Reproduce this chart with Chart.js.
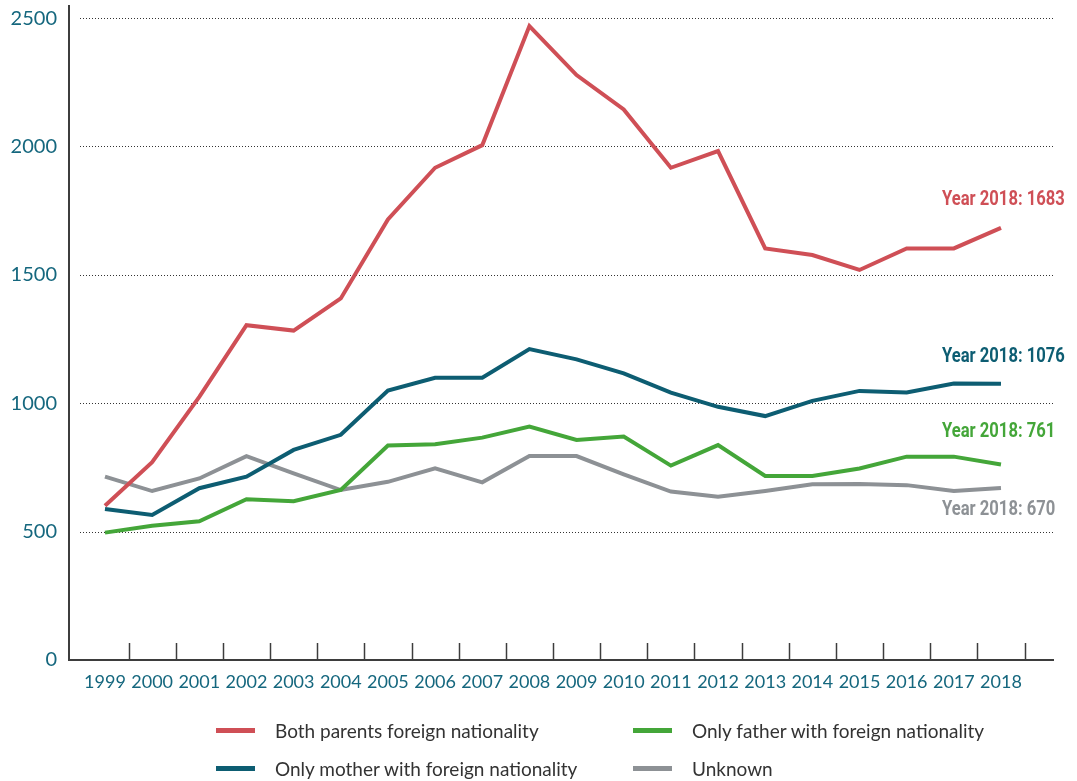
<!DOCTYPE html>
<html>
<head>
<meta charset="utf-8">
<script src="https://cdn.jsdelivr.net/npm/chart.js@4/dist/chart.umd.min.js"></script>
<style>
  html, body { margin: 0; padding: 0; background: #fff; }
  #wrap { position: relative; width: 1077px; height: 781px; }
  #chart { position: absolute; left: 0; top: 0; }
  #legend {
    position: absolute; left: 216px; top: 711px;
    display: grid; grid-template-rows: 38px 38px; grid-auto-flow: column;
    grid-template-columns: 417px 400px;
    font-family: Lato, "Open Sans", sans-serif; font-size: 19px; color: #333;
  }
  .item { display: flex; align-items: center; white-space: nowrap; }
  .swatch { display: inline-block; width: 39px; height: 5px; margin-right: 20px; }
</style>
</head>
<body>
<div id="wrap">
  <canvas id="chart" width="1077" height="781"></canvas>
  <div id="legend"></div>
</div>
<script>
// Births by nationality of the parents, 1999–2018
const years = [1999, 2000, 2001, 2002, 2003, 2004, 2005, 2006, 2007, 2008,
               2009, 2010, 2011, 2012, 2013, 2014, 2015, 2016, 2017, 2018];
const bothParents = [601, 770, 1025, 1304, 1283, 1408, 1716, 1917, 2005, 2469,
                     2278, 2144, 1917, 1982, 1603, 1577, 1519, 1603, 1603, 1683];
const onlyMother  = [588, 565, 669, 714, 818, 877, 1049, 1099, 1099, 1211,
                     1171, 1116, 1041, 986, 950, 1009, 1048, 1042, 1077, 1076];
const onlyFather  = [496, 523, 540, 626, 618, 662, 835, 840, 866, 909,
                     857, 870, 757, 837, 717, 717, 746, 792, 792, 761];
const unknown     = [714, 658, 707, 794, 727, 662, 694, 746, 692, 794,
                     794, 723, 656, 636, 658, 684, 685, 681, 658, 670];
const seriesNames = ['Both parents foreign nationality', 'Only mother with foreign nationality',
                     'Only father with foreign nationality', 'Unknown'];
const yTicks = [0, 500, 1000, 1500, 2000, 2500];

const colors = ['#cf4f56', '#0d5d72', '#44a639', '#8d9195'];
const tickColor = '#15677e';
const axisColor = '#3d3d3d';

const toPoints = arr => years.map((yr, i) => ({ x: yr, y: arr[i] }));
const seriesValues = [bothParents, onlyMother, onlyFather, unknown];

// Dotted gridlines, inward tick marks between years and end-of-line labels
const decorations = {
  id: 'decorations',
  beforeDatasetsDraw(chart) {
    const { ctx, chartArea, scales } = chart;
    ctx.save();
    ctx.strokeStyle = '#333';
    ctx.lineWidth = 1;
    ctx.setLineDash([1, 2]);
    yTicks.filter(v => v > 0).forEach(v => {
      const y = Math.round(scales.y.getPixelForValue(v)) + 0.5;
      ctx.beginPath();
      ctx.moveTo(chartArea.left + 11, y);
      ctx.lineTo(chartArea.right, y);
      ctx.stroke();
    });
    ctx.setLineDash([]);
    ctx.strokeStyle = axisColor;
    ctx.lineWidth = 1.5;
    years.forEach(yr => {
      const x = Math.round(scales.x.getPixelForValue(yr + 0.5)) + 0.5;
      ctx.beginPath();
      ctx.moveTo(x, chartArea.bottom - 17);
      ctx.lineTo(x, chartArea.bottom);
      ctx.stroke();
    });
    ctx.restore();
  },
  afterDatasetsDraw(chart) {
    const { ctx, scales } = chart;
    const offsets = [-28, -27, -33, 22];
    const last = years.length - 1;
    ctx.save();
    ctx.font = 'bold 20px Roboto, sans-serif';
    ctx.textBaseline = 'middle';
    ctx.textAlign = 'left';
    seriesValues.forEach((arr, i) => {
      const y = scales.y.getPixelForValue(arr[last]) + offsets[i];
      ctx.save();
      ctx.translate(942, y);
      ctx.scale(0.83, 1);
      ctx.fillStyle = colors[i];
      ctx.fillText('Year ' + years[last] + ': ' + arr[last], 0, 0);
      ctx.restore();
    });
    ctx.restore();
  }
};

const chart = new Chart(document.getElementById('chart'), {
  type: 'line',
  data: {
    datasets: seriesValues.map((arr, i) => ({
      label: seriesNames[i],
      data: toPoints(arr),
      borderColor: colors[i],
      backgroundColor: colors[i],
      borderWidth: 4,
      borderJoinStyle: 'miter',
      pointRadius: 0,
      tension: 0,
      fill: false
    }))
  },
  options: {
    responsive: false,
    animation: false,
    events: [],
    layout: { padding: { top: 6, right: 24, left: 0, bottom: 0 } },
    plugins: { legend: { display: false }, tooltip: { enabled: false } },
    scales: {
      x: {
        type: 'linear',
        min: 1998.237,
        max: 2019.103,
        afterBuildTicks: axis => { axis.ticks = years.map(v => ({ value: v })); },
        afterFit: s => { s.height = 121; s.paddingLeft = 0; s.paddingRight = 0; },
        grid: { display: false, drawTicks: false },
        border: { display: true, color: axisColor, width: 2 },
        ticks: {
          autoSkip: false, maxRotation: 0, padding: 11,
          color: tickColor,
          font: { family: 'Lato', size: 18 },
          callback: v => String(v)
        }
      },
      y: {
        min: 0,
        max: 2547,
        afterBuildTicks: axis => { axis.ticks = yTicks.map(v => ({ value: v })); },
        afterFit: s => { s.width = 69; s.paddingTop = 0; s.paddingBottom = 0; },
        grid: { display: false, drawTicks: false },
        border: { display: true, color: axisColor, width: 2 },
        ticks: {
          padding: 12,
          color: tickColor,
          font: { family: 'Lato', size: 20 },
          callback: v => String(v)
        }
      }
    }
  },
  plugins: [decorations]
});

// Legend built from the chart's datasets
const legend = document.getElementById('legend');
chart.data.datasets.forEach(ds => {
  const item = document.createElement('div');
  item.className = 'item';
  const sw = document.createElement('span');
  sw.className = 'swatch';
  sw.style.background = ds.borderColor;
  const txt = document.createElement('span');
  txt.textContent = ds.label;
  item.appendChild(sw);
  item.appendChild(txt);
  legend.appendChild(item);
});
</script>
</body>
</html>
